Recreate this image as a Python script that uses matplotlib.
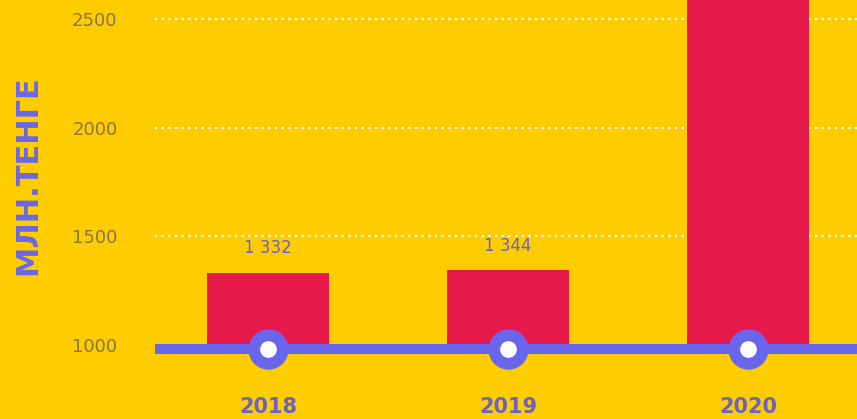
import numpy as np
import matplotlib
matplotlib.use('Agg')
import matplotlib.pyplot as plt

years = ['2018', '2019', '2020']
values = [1332, 1344, 3100]
value_labels = ['1 332', '1 344', '3 100']
yticks = [1000, 1500, 2000, 2500]

bg = '#FFCC00'
bar_col = '#E5194A'
purple = '#6A66EC'
tick_col = '#857650'
year_col = '#6A62C8'

plt.rcParams['font.family'] = ['DejaVu Sans']

fig = plt.figure(figsize=(8.57, 4.19), dpi=100, facecolor=bg)
ax = fig.add_axes([155 / 857, 0, 1 - 155 / 857, 1])
ax.set_facecolor(bg)

x = np.arange(len(years))
base = 1000
ax.bar(x, np.array(values) - base, bottom=base, width=0.51, color=bar_col, zorder=2)

for xi, v, lab in zip(x, values, value_labels):
    ax.annotate(lab, (xi, v), xytext=(0, 11), textcoords='offset points',
                ha='center', va='bottom', fontsize=12, color=year_col)

# dotted grid
for t in yticks[1:]:
    ax.axhline(t, color='white', lw=1.6, ls=(0, (1, 2)), zorder=1)

# base line with markers
ax.axhline(base - 22, color=purple, lw=7.2, zorder=3)
ax.plot(x, [base - 22] * len(x), 'o', ms=28, color=purple, zorder=4)
ax.plot(x, [base - 22] * len(x), 'o', ms=11, color='white', zorder=5)

ax.set_xlim(-0.471, 2.454)
ax.set_ylim(658, 2587)
for s in ax.spines.values():
    s.set_visible(False)
ax.set_xticks([])
ax.set_yticks(yticks)
ax.set_yticklabels([str(t) for t in yticks], fontsize=13, color=tick_col)
ax.tick_params(axis='y', length=0, pad=27)

for xi, yr in zip(x, years):
    ax.annotate(yr, (xi, 0), xycoords=('data', 'axes fraction'), xytext=(0, 8.5),
                textcoords='offset points', ha='center', va='center',
                fontsize=15, color=year_col, fontweight='bold')

fig.text(28 / 857, 1 - 175 / 419, 'МЛН.ТЕНГЕ', rotation=90, ha='center', va='center',
         fontsize=22, fontweight='bold', color=purple)

fig.savefig('out.png', facecolor=bg)
